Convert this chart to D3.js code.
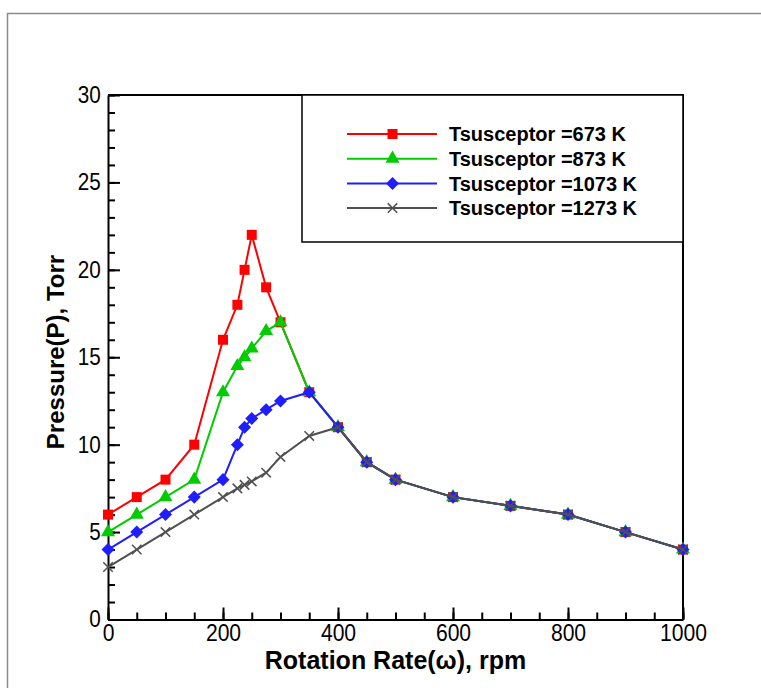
<!DOCTYPE html>
<html>
<head>
<meta charset="utf-8">
<script src="https://cdn.jsdelivr.net/npm/d3@7"></script>
<style>
  body { margin: 0; background: #fff; }
  svg { font-family: "Liberation Sans", Arial, sans-serif; }
  .axis path, .axis line { stroke: #000; stroke-width: 2; }
  .axis text { fill: #000; }
</style>
</head>
<body>
<div id="chart"></div>
<script>
// DATA
const rpm = [0, 50, 100, 150, 200, 225, 237.5, 250, 275, 300, 350, 400, 450, 500, 600, 700, 800, 900, 1000];
const p673 = [6, 7, 8, 10, 16, 18, 20, 22, 19, 17, 13, 11, 9, 8, 7, 6.5, 6, 5, 4];
const p873 = [5, 6, 7, 8, 13, 14.5, 15, 15.5, 16.5, 17, 13, 11, 9, 8, 7, 6.5, 6, 5, 4];
const p1073 = [4, 5, 6, 7, 8, 10, 11, 11.5, 12, 12.5, 13, 11, 9, 8, 7, 6.5, 6, 5, 4];
const p1273 = [3, 4, 5, 6, 7, 7.5, 7.7, 7.9, 8.4, 9.3, 10.5, 11, 9, 8, 7, 6.5, 6, 5, 4];
const seriesNames = ["Tsusceptor =673 K", "Tsusceptor =873 K", "Tsusceptor =1073 K", "Tsusceptor =1273 K"];
const xTicks = [0, 200, 400, 600, 800, 1000];
const yTicks = [0, 5, 10, 15, 20, 25, 30];

const W = 761, H = 688;
const plot = { left: 108, right: 683, top: 95, bottom: 619.5 };

const svg = d3.select("#chart").append("svg")
    .attr("width", W)
    .attr("height", H);

// outer frame (runs off right and bottom)
svg.append("path")
    .attr("d", `M7.5,${H + 5} L7.5,13.5 L${W + 5},13.5`)
    .attr("fill", "none")
    .attr("stroke", "#8a8a8a")
    .attr("stroke-width", 1.5);

// scales
const x = d3.scaleLinear().domain([0, 1000]).range([plot.left, plot.right]);
const y = d3.scaleLinear().domain([0, 30]).range([plot.bottom, plot.top]);

// minor ticks
svg.append("g")
    .attr("class", "axis")
    .attr("transform", `translate(0,${plot.bottom})`)
    .call(d3.axisBottom(x).tickValues(d3.range(0, 1001, 50)).tickSize(-7).tickFormat(""))
    .select(".domain").remove();
svg.append("g")
    .attr("class", "axis")
    .attr("transform", `translate(${plot.left},0)`)
    .call(d3.axisLeft(y).tickValues(d3.range(0, 31, 1)).tickSize(-7).tickFormat(""))
    .select(".domain").remove();

// major ticks + labels
const xAxis = svg.append("g")
    .attr("class", "axis")
    .attr("transform", `translate(0,${plot.bottom})`)
    .call(d3.axisBottom(x).tickValues(xTicks).tickFormat(d3.format("d"))
        .tickSize(-12).tickPadding(4).tickSizeOuter(0));
xAxis.selectAll("text")
    .attr("font-size", 24)
    .attr("transform", "scale(0.88,1)");

const yAxis = svg.append("g")
    .attr("class", "axis")
    .attr("transform", `translate(${plot.left},0)`)
    .call(d3.axisLeft(y).tickValues(yTicks).tickSize(-12).tickPadding(8).tickSizeOuter(0));
yAxis.selectAll("text")
    .attr("font-size", 23)
    .attr("transform", "scale(0.9,1)");

// top and right frame of the plot
svg.append("path")
    .attr("d", `M${plot.left},${plot.top} L${plot.right},${plot.top} L${plot.right},${plot.bottom}`)
    .attr("fill", "none")
    .attr("stroke", "#000")
    .attr("stroke-width", 2);

// series
const series = [
    { name: seriesNames[0], values: p673, color: "#ff0000", symbol: d3.symbolSquare, size: 100, rot: 0 },
    { name: seriesNames[1], values: p873, color: "#00cc00", symbol: d3.symbolTriangle, size: 85, rot: 0 },
    { name: seriesNames[2], values: p1073, color: "#1e1eff", symbol: d3.symbolSquare, size: 85, rot: 45 },
    { name: seriesNames[3], values: p1273, color: "#505050", symbol: d3.symbolX, size: 60, rot: 0 }
];

const line = d3.line()
    .x(d => x(d[0]))
    .y(d => y(d[1]));

function marker(g, s) {
    g.attr("d", d3.symbol().type(s.symbol).size(s.size));
    if (s.symbol === d3.symbolX) {
        g.attr("fill", "none").attr("stroke", s.color).attr("stroke-width", 1.5);
    } else {
        g.attr("fill", s.color).attr("stroke", "none");
    }
}

series.forEach(s => {
    const pts = rpm.map((r, i) => [r, s.values[i]]);
    svg.append("path")
        .datum(pts)
        .attr("fill", "none")
        .attr("stroke", s.color)
        .attr("stroke-width", 2)
        .attr("d", line);
    svg.append("g")
        .selectAll("path")
        .data(pts)
        .enter()
        .append("path")
        .attr("transform", d => `translate(${x(d[0])},${y(d[1])}) rotate(${s.rot})`)
        .call(marker, s);
});

// legend
const legend = svg.append("g");
legend.append("rect")
    .attr("x", 302)
    .attr("y", plot.top)
    .attr("width", plot.right - 302)
    .attr("height", 147)
    .attr("fill", "#fff")
    .attr("stroke", "#000")
    .attr("stroke-width", 1.5);

series.forEach((s, i) => {
    const ly = 134 + i * 24.7;
    legend.append("line")
        .attr("x1", 347).attr("x2", 437)
        .attr("y1", ly).attr("y2", ly)
        .attr("stroke", s.color)
        .attr("stroke-width", 2);
    legend.append("path")
        .attr("transform", `translate(392.5,${ly}) rotate(${s.rot})`)
        .call(marker, s);
    legend.append("text")
        .attr("x", 449)
        .attr("y", ly)
        .attr("dy", "0.36em")
        .attr("font-size", 20)
        .attr("font-weight", "bold")
        .text(s.name);
});

// axis labels
svg.append("text")
    .attr("x", (plot.left + plot.right) / 2)
    .attr("y", 669)
    .attr("text-anchor", "middle")
    .attr("font-size", 25)
    .attr("font-weight", "bold")
    .text("Rotation Rate(ω), rpm");

svg.append("text")
    .attr("transform", "rotate(-90)")
    .attr("x", -352)
    .attr("y", 64)
    .attr("text-anchor", "middle")
    .attr("font-size", 24)
    .attr("font-weight", "bold")
    .text("Pressure(P), Torr");
</script>
</body>
</html>
